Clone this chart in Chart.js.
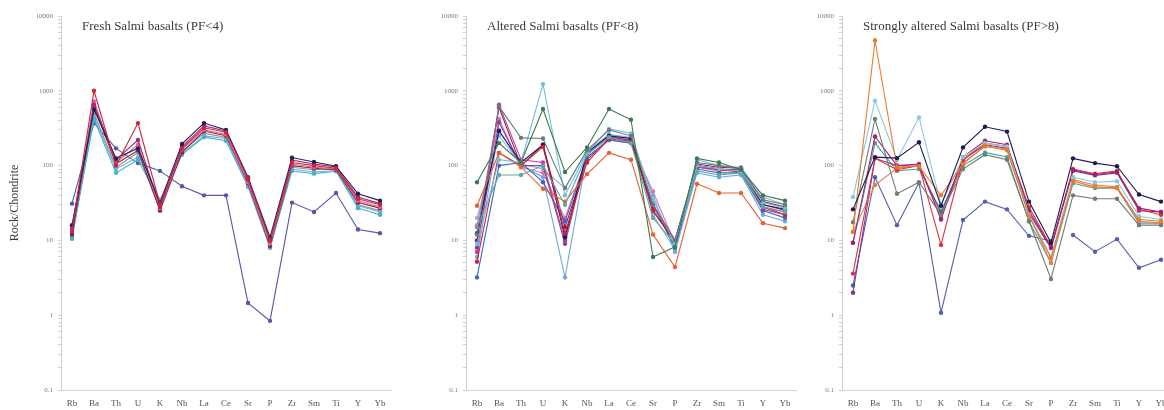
<html>
<head>
<script src="https://cdn.jsdelivr.net/npm/chart.js@4.4.0/dist/chart.umd.min.js"></script>
<style>
  body { margin: 0; background: #fff; overflow: hidden; width: 1164px; height: 410px; position: relative; }
  .panel { position: absolute; top: 0; width: 395px; height: 410px; }
</style>
</head>
<body>
<div class="panel" style="left:0px"><canvas id="fresh"></canvas></div>
<div class="panel" style="left:405px"><canvas id="altered"></canvas></div>
<div class="panel" style="left:781px"><canvas id="strong"></canvas></div>
<script>
// element order on the x axis
const elements = ['Rb', 'Ba', 'Th', 'U', 'K', 'Nb', 'La', 'Ce', 'Sr', 'P', 'Zr', 'Sm', 'Ti', 'Y', 'Yb'];
const yTicks = [0.1, 1, 10, 100, 1000, 10000];

// Fresh Salmi basalts (PF<4), rock/chondrite
const freshValues = [
  [14, 1000, 100, 370, 30, 170, 320, 280, 68, 10, 110, 100, 92, 36, 30],
  [16, 560, 125, 170, 32, 195, 370, 300, 70, 11, 128, 112, 98, 42, 34],
  [13, 650, 120, 220, 28, 180, 340, 290, 65, 10, 118, 105, 96, 38, 31],
  [15, 720, 110, 190, 27, 165, 300, 260, 60, 9, 105, 95, 90, 34, 28],
  [12, 620, 105, 160, 25, 150, 290, 250, 58, 8.5, 100, 92, 88, 32, 27],
  [11, 420, 80, 120, 33, 140, 240, 215, 52, 8, 85, 78, 84, 27, 22],
  [12, 450, 90, 130, 35, 145, 250, 230, 55, 8.5, 90, 82, 86, 29, 24],
  [10.5, 500, 95, 150, 26, 155, 270, 240, 62, 8, 95, 88, 90, 30, 25],
  [31, 370, 170, 108, 85, 53, 40, 40, 1.46, 0.84, 32, 24, 43, 14, 12.5]
];
const freshColors = ['#c8283a', '#202058', '#a02878', '#e0609a', '#8a2038', '#40b4cc', '#78aedc', '#8a9098', '#5558a8'];

// Altered Salmi basalts (PF<8)
const alteredValues = [
  [60, 200, 110, 570, 82, 175, 570, 410, 6, 8.2, 125, 110, 88, 40, 34],
  [12, 620, 235, 230, 50, 160, 300, 250, 30, 10, 110, 100, 90, 35, 30],
  [9, 120, 110, 1230, 40, 150, 310, 270, 35, 9, 100, 90, 85, 32, 27],
  [15, 75, 75, 100, 30, 140, 240, 200, 20, 9, 85, 75, 80, 28, 24],
  [29, 148, 96, 49, 33, 77, 148, 120, 12, 4.4, 57, 43, 43, 17, 14.6],
  [5.2, 148, 100, 178, 12.5, 110, 230, 210, 25, 9.5, 100, 88, 82, 28, 22],
  [12.5, 290, 110, 190, 11, 150, 250, 230, 25, 9.5, 100, 90, 85, 30, 26],
  [8, 380, 100, 100, 9, 140, 240, 220, 30, 10, 95, 88, 88, 26, 22],
  [7, 650, 120, 110, 10, 150, 240, 220, 28, 10, 100, 90, 88, 28, 24],
  [3.2, 100, 110, 60, 18, 130, 220, 200, 30, 8, 90, 80, 80, 25, 20],
  [6, 300, 100, 70, 3.2, 140, 260, 230, 40, 7, 80, 70, 75, 22, 18],
  [16, 420, 95, 80, 20, 130, 220, 200, 45, 9, 95, 85, 90, 30, 25],
  [10, 600, 100, 190, 15, 120, 230, 210, 30, 10, 105, 95, 92, 33, 28],
  [20, 250, 105, 90, 50, 160, 260, 240, 22, 7.5, 120, 100, 95, 38, 30]
];
const alteredColors = ['#3e7a50', '#707a7a', '#70c0d8', '#60a8a0', '#e86030', '#d82030', '#1a1a60', '#8a40a0', '#c040a0', '#3868c8', '#70a8e0', '#e070b0', '#8a2040', '#88b8e8'];

// Strongly altered Salmi basalts (PF>8)
const strongValues = [
  [26, 130, 126, 205, 29, 175, 330, 285, 33, 9.3, 125, 108, 98, 41, 33],
  [13, 4700, 95, 98, 40, 105, 185, 165, 21, 5.8, 62, 52, 50, 19, 18],
  [38, 740, 120, 440, 30, 130, 200, 180, 22, 6, 70, 60, 62, 21, 19],
  [17.5, 420, 42, 60, 22, 90, 140, 120, 18, 3.05, 40, 36, 36, 16, 16],
  [9.3, 245, 100, 105, 19, 130, 215, 190, 25, 8, 88, 76, 82, 27, 24],
  [3.6, 125, 88, 100, 8.7, 120, 200, 180, 28, 8.2, 90, 78, 85, 26, 22],
  [13, 55, 92, 100, 20, 110, 180, 160, 22, 5, 65, 55, 52, 18, 17],
  [2.0, 125, 100, 98, 23, 120, 190, 170, 23, 7.9, 85, 74, 80, 25, 24],
  [9.3, 200, 85, 90, 25, 100, 150, 130, 18, 5, 58, 50, 50, 17, 17],
  [2.5, 70, 16, 59, 1.08, 18.7, 33, 26, 11.5, 9.8, null, null, null, null, null],
  [null, null, null, null, null, null, null, null, null, null, 11.8, 7.06, 10.4, 4.3, 5.5]
];
const strongColors = ['#1c1c50', '#f07828', '#88c8e0', '#6a8070', '#a02070', '#e03040', '#e08050', '#7a3a90', '#50a0a0', '#5560a8', '#5560a8'];

const panelText = {
  id: 'panelText',
  afterDraw(chart, args, opts) {
    const ctx = chart.ctx, a = chart.chartArea;
    ctx.save();
    ctx.fillStyle = '#3a3a3a';
    ctx.font = '13px "Liberation Serif", serif';
    ctx.textBaseline = 'middle';
    ctx.fillText(opts.title, a.left + 21, 27);
    if (opts.yTitle) {
      ctx.font = '12px "Liberation Serif", serif';
      ctx.translate(15, (a.top + a.bottom) / 2);
      ctx.rotate(-Math.PI / 2);
      ctx.textAlign = 'center';
      ctx.fillText(opts.yTitle, 0, 0);
    }
    ctx.restore();
  }
};

function makeChart(id, values, colors, title, yTitle) {
  const datasets = values.map((v, k) => ({
    data: v,
    borderColor: colors[k],
    backgroundColor: colors[k],
    borderWidth: 1.1,
    pointRadius: 2.2,
    pointBorderWidth: 0,
    spanGaps: false
  }));
  return new Chart(document.getElementById(id), {
    type: 'line',
    data: { labels: elements, datasets: datasets },
    plugins: [panelText],
    options: {
      responsive: true,
      maintainAspectRatio: false,
      animation: false,
      layout: { padding: { top: 16, right: 4, left: 0, bottom: 0 } },
      plugins: {
        legend: { display: false },
        tooltip: { enabled: false },
        panelText: { title: title, yTitle: yTitle }
      },
      scales: {
        x: {
          offset: true,
          grid: { display: false, drawTicks: false },
          border: { display: true, color: '#d6d6d6' },
          ticks: { font: { family: '"Liberation Serif", serif', size: 9 }, color: '#555', padding: 8, maxRotation: 0, autoSkip: false },
          afterFit: s => { s.height = 20; }
        },
        y: {
          type: 'logarithmic',
          min: 0.1,
          max: 10000,
          grid: { display: true, drawOnChartArea: false, drawTicks: true, tickLength: 3, color: '#cfcfcf' },
          border: { display: true, color: '#d0d0d0' },
          ticks: {
            autoSkip: false,
            font: { family: '"Liberation Serif", serif', size: 7 },
            color: '#777',
            padding: 5,
            callback: v => (yTicks.includes(v) ? String(v) : '')
          },
          afterBuildTicks: s => {
            const t = [];
            for (let e = -1; e <= 3; e++) {
              for (let m = 1; m <= 9; m++) t.push({ value: Number((m * Math.pow(10, e)).toPrecision(3)) });
            }
            t.push({ value: 10000 });
            s.ticks = t;
          },
          afterFit: s => { s.width = 61; }
        }
      }
    }
  });
}

makeChart('fresh', freshValues, freshColors, 'Fresh Salmi basalts (PF<4)', 'Rock/Chondrite');
makeChart('altered', alteredValues, alteredColors, 'Altered Salmi basalts (PF<8)', null);
makeChart('strong', strongValues, strongColors, 'Strongly altered Salmi basalts (PF>8)', null);
</script>
</body>
</html>
